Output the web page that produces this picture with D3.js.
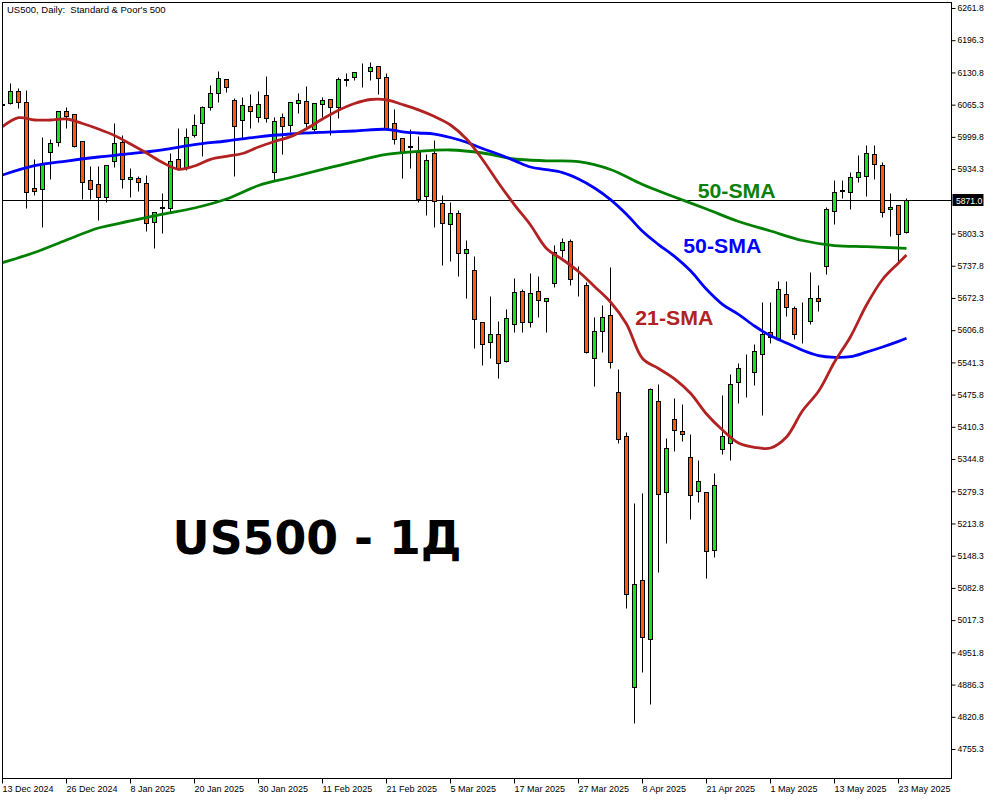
<!DOCTYPE html>
<html><head><meta charset="utf-8">
<script src="https://cdn.jsdelivr.net/npm/d3@7"></script>
<style>body{margin:0;background:#fff;} svg{display:block;} text{white-space:pre;}</style>
</head><body>
<svg id="c" width="1000" height="800"></svg>
<script>
// ---- data ----
const openP = [6065.5,6068.0,6093.1,6070.1,5895.2,5893.2,5969.7,5990.0,6052.4,6045.7,
5990.8,5911.5,5904.0,5878.2,5951.4,5990.0,5913.5,5915.6,5905.4,5827.3,
5855.3,5854.6,5954.2,5935.9,6003.6,6027.4,6061.1,6088.4,6116.8,6074.8,
6034.1,6062.6,6040.8,6084.9,5929.0,6040.8,6023.3,6068.0,6072.7,6015.2,
6066.0,6076.8,6061.1,6116.5,6122.1,6130.2,6134.3,6143.9,6120.9,6027.4,
5996.9,5980.3,5969.7,5880.2,5967.6,5864.7,5822.0,5844.4,5763.1,5729.1,
5622.8,5582.1,5599.0,5544.1,5619.4,5685.8,5622.8,5685.8,5666.7,5702.1,
5769.8,5788.1,5699.6,5698.6,5549.6,5604.5,5637.0,5480.5,5391.0,4880.7,
5098.3,4978.3,5462.2,5277.2,5425.6,5401.2,5348.3,5279.2,5277.2,5159.3,
5364.6,5376.8,5500.8,5522.3,5521.2,5557.7,5602.5,5591.5,5680.3,5651.3,
5629.4,5626.1,5671.6,5737.9,5849.1,5890.9,5887.1,5917.6,5920.9,5965.0,
5942.6,5852.5,5860.7,5807.0];
const highP = [6068.0,6109.9,6098.5,6095.1,5954.8,6000.2,5994.9,6052.4,6059.9,6045.7,
5990.8,5941.2,5941.2,5942.6,6027.4,6003.6,5935.9,5920.2,5922.3,5846.4,
5885.1,5967.6,6017.2,6018.4,6046.3,6062.6,6105.3,6133.7,6116.8,6078.2,
6081.5,6087.0,6093.7,6123.6,6039.6,6048.9,6070.1,6089.6,6103.2,6068.0,
6080.3,6076.8,6120.9,6129.0,6131.1,6150.6,6152.6,6143.9,6130.3,6056.5,
5996.9,6015.2,6001.6,5965.0,5993.4,5881.6,5868.0,5851.1,5790.1,5757.6,
5622.8,5676.3,5625.4,5649.8,5712.3,5689.9,5722.4,5716.9,5672.2,5780.0,
5793.6,5791.6,5737.3,5705.3,5634.2,5658.0,5734.6,5527.9,5399.2,5254.8,
5275.1,5488.6,5496.8,5387.0,5468.3,5456.1,5395.7,5342.8,5277.2,5315.8,
5475.0,5517.1,5539.4,5557.7,5578.1,5663.5,5664.1,5707.4,5707.4,5656.6,
5663.5,5724.5,5698.6,5857.8,5912.1,5912.1,5929.0,5962.9,5983.3,5983.3,
5948.1,5886.3,5860.7,5874.9];
const lowP = [6064.0,6066.6,6059.1,5854.6,5881.6,5817.2,5914.2,5981.9,6017.2,5979.2,
5873.5,5873.5,5830.8,5868.0,5939.2,5895.2,5878.2,5890.4,5808.4,5774.5,
5805.0,5847.7,5932.4,5932.4,6000.2,5961.5,6054.4,6071.3,6091.6,5920.9,
5996.9,6017.2,6030.6,6030.6,5912.1,5964.4,6010.3,6048.9,6020.5,6012.3,
6039.6,6003.6,6037.6,6103.8,6115.4,6101.8,6115.4,6087.0,6013.0,5984.7,
5915.6,5935.9,5866.8,5841.0,5817.2,5739.3,5748.0,5717.5,5671.6,5569.9,
5536.0,5550.8,5510.2,5541.5,5602.5,5602.5,5612.6,5634.2,5603.7,5695.2,
5756.2,5698.6,5676.9,5560.0,5493.9,5561.8,5529.3,5378.0,5041.3,4807.5,
4912.4,4846.8,5115.8,5174.7,5361.8,5382.1,5222.3,5258.1,5102.3,5146.2,
5354.4,5342.8,5458.1,5471.5,5495.3,5434.9,5581.3,5590.3,5636.2,5588.2,
5580.1,5619.4,5645.8,5720.4,5822.0,5874.9,5852.5,5908.7,5880.2,5914.2,
5837.5,5798.9,5748.0,5805.0];
const closeP = [6066.5,6093.1,6071.3,5888.3,5890.4,5946.1,5986.7,6052.4,6042.8,5981.9,
5908.7,5893.2,5878.2,5942.6,5986.7,5913.5,5918.2,5907.4,5824.1,5846.4,
5856.3,5951.4,5935.9,6000.2,6023.9,6059.9,6088.4,6118.9,6101.8,6022.5,
6064.6,6053.0,6066.6,6037.6,6032.1,6021.9,6070.1,6074.8,6028.6,6068.0,
6074.8,6061.1,6117.5,6115.4,6131.1,6129.7,6141.2,6118.9,6015.2,5994.9,
5969.7,5979.8,5873.5,5952.8,5870.0,5824.1,5844.4,5763.1,5771.8,5628.9,
5578.1,5599.0,5539.4,5630.9,5683.8,5622.8,5681.8,5668.1,5671.6,5766.3,
5785.5,5710.2,5698.6,5561.8,5605.1,5633.0,5541.5,5384.9,5069.8,5090.1,
4982.4,5486.6,5273.1,5366.6,5403.2,5395.1,5271.1,5300.2,5157.2,5291.4,
5391.0,5496.8,5529.3,5521.8,5563.8,5598.4,5592.9,5689.9,5653.3,5598.4,
5628.9,5671.6,5666.7,5852.5,5887.1,5890.4,5918.8,5927.8,5967.6,5944.0,
5847.7,5856.6,5801.7,5871.0];

// moving averages (bar index, value)
const smaRedIdx = [0,2,4,6,8,10,12,14,16,18,20,22,24,26,28,30,32,34,36,38,40,42,44,46,48,50,52,54,56,58,
60,62,64,66,68,70,72,74,76,78,80,82,84,86,88,90,92,94,96,98,100,102,104,106,108,110,112,113];
const smaRed = [6020.5,6038.8,6034.1,6034.1,6036.1,6027.0,6015.8,6002.6,5985.3,5967.0,5947.7,5933.9,5940.6,5954.2,
5960.3,5966.0,5979.2,5990.4,6000.2,6016.4,6036.1,6053.8,6067.6,6075.8,6075.2,6065.6,6054.8,6041.2,6023.9,5995.5,
5953.8,5906.0,5861.7,5820.6,5772.8,5750.5,5726.1,5695.6,5664.1,5619.4,5549.2,5528.9,5507.9,5478.5,5436.4,5403.8,
5377.4,5368.7,5367.2,5389.6,5442.9,5482.5,5542.1,5593.5,5658.0,5709.8,5743.4,5759.6];
const smaBlueIdx = [0,4,8,12,16,20,24,28,32,36,40,44,48,50,52,54,56,58,60,62,64,66,68,70,72,74,76,78,80,82,84,86,88,90,
92,94,96,98,100,102,104,106,108,110,112,113];
const smaBlue = [5922.3,5941.2,5950.7,5958.9,5965.6,5973.5,5984.1,5991.4,5999.9,6005.6,6009.1,6011.7,6015.2,6010.1,
6007.7,6005.6,5998.5,5988.8,5976.2,5964.4,5951.6,5938.5,5933.1,5927.2,5914.2,5895.9,5872.3,5842.4,5807.8,5780.8,
5756.8,5727.5,5690.1,5659.4,5639.1,5615.3,5595.6,5580.9,5565.9,5555.1,5551.6,5552.9,5562.2,5572.6,5584.0,5590.3];
const smaGreenIdx = [0,4,8,12,16,20,24,28,32,36,40,44,48,52,56,60,64,68,72,76,80,84,88,92,96,100,104,108,112,113];
const smaGreen = [5744.0,5764.7,5790.1,5814.5,5828.8,5842.6,5855.2,5873.5,5900.9,5917.2,5933.5,5949.7,5964.0,5970.5,
5973.1,5967.0,5954.8,5951.2,5949.5,5933.5,5903.0,5877.6,5853.2,5827.7,5808.4,5789.1,5778.9,5776.5,5773.9,5773.3];

const yTickLabels = ["6261.8","6196.3","6130.8","6065.3","5999.8","5934.3","5803.3","5737.8","5672.3","5606.8",
"5541.3","5475.8","5410.3","5344.8","5279.3","5213.8","5148.3","5082.8","5017.3","4951.8","4886.3","4820.8","4755.3"];
const xTickIdx = [0,8,16,24,32,40,48,56,64,72,80,88,96,104,112];
const xTickLabels = ["13 Dec 2024","26 Dec 2024","8 Jan 2025","20 Jan 2025","30 Jan 2025","11 Feb 2025","21 Feb 2025",
"5 Mar 2025","17 Mar 2025","27 Mar 2025","8 Apr 2025","21 Apr 2025","1 May 2025","13 May 2025","23 May 2025"];
const lastPrice = 5871.0;
const titleText = "US500, Daily:  Standard & Poor's 500";
const bigText = "US500 - 1Д";
const smaLabels = [
  {text:"50-SMA", color:"#0b800b", at:[86.9, 5875]},
  {text:"50-SMA", color:"#0000ff", at:[85.1, 5763]},
  {text:"21-SMA", color:"#b22222", at:[79.1, 5617]}
];

// ---- layout ----
const L = 2.5, R = 951.5, T = 2.5, B = 778.5;
const svg = d3.select("#c");
const x = d3.scaleLinear().domain([0, 113]).range([2.5, 906.5]);
const y = d3.scaleLinear().domain([4755.3, 6261.8]).range([749, 8]);
const py = v => Math.round(y(v)) + 0.5;

svg.append("defs").append("clipPath").attr("id","plot")
  .append("rect").attr("x", L).attr("y", T).attr("width", R - L).attr("height", B - T);

const font = "'Liberation Sans', Arial, sans-serif";

// current price line
svg.append("line").attr("x1", L).attr("x2", R)
  .attr("y1", py(lastPrice)).attr("y2", py(lastPrice))
  .attr("stroke", "#000").attr("stroke-width", 1);

// candles
const idx = d3.range(openP.length);
const g = svg.append("g").attr("clip-path", "url(#plot)");
const cg = g.selectAll("g.c").data(idx).join("g");
cg.append("line")
  .attr("x1", i => x(i)).attr("x2", i => x(i))
  .attr("y1", i => py(highP[i])).attr("y2", i => py(lowP[i]))
  .attr("stroke", "#000").attr("stroke-width", 1);
cg.append("rect")
  .attr("x", i => x(i) - 2).attr("width", 4)
  .attr("y", i => Math.min(py(openP[i]), py(closeP[i])))
  .attr("height", i => Math.abs(py(openP[i]) - py(closeP[i])))
  .attr("fill", i => closeP[i] >= openP[i] ? "#17e317" : "#ff5a0a")
  .attr("stroke", "#000").attr("stroke-width", 1);

// moving averages
function drawLine(ix, vals, color) {
  const line = d3.line().x((d, k) => x(ix[k])).y(d => y(d)).curve(d3.curveCatmullRom);
  g.append("path").attr("d", line(vals)).attr("fill", "none")
    .attr("stroke", color).attr("stroke-width", 2.8).attr("stroke-linejoin", "round");
}
drawLine(smaGreenIdx, smaGreen, "#008000");
drawLine(smaBlueIdx, smaBlue, "#0000ff");
drawLine(smaRedIdx, smaRed, "#b22222");

// frame
svg.append("rect").attr("x", L).attr("y", T).attr("width", R - L).attr("height", B - T)
  .attr("fill", "none").attr("stroke", "#000").attr("stroke-width", 1);

// y axis (right)
const yAxis = d3.axisRight(y).tickValues(yTickLabels.map(Number))
  .tickFormat((d, i) => yTickLabels[i]).tickSize(4).tickPadding(2);
const ya = svg.append("g").attr("transform", `translate(${R},0)`).call(yAxis);
ya.select(".domain").remove();
ya.selectAll("text").attr("font-family", font).attr("font-size", 8.6).attr("fill", "#000");
ya.selectAll("line").attr("stroke", "#000");

// price label
svg.append("rect").attr("x", R + 1).attr("y", py(lastPrice) - 6.5).attr("width", 31).attr("height", 12).attr("fill", "#000");
svg.append("text").attr("x", R + 4.5).attr("y", py(lastPrice) + 3.5)
  .attr("font-family", font).attr("font-size", 8.6).attr("fill", "#fff").text(lastPrice.toFixed(1));

// x axis (bottom)
const xAxis = d3.axisBottom(x).tickValues(xTickIdx).tickFormat((d, i) => xTickLabels[i]).tickSize(5);
const xa = svg.append("g").attr("transform", `translate(0,${B})`).call(xAxis);
xa.select(".domain").remove();
xa.selectAll("line").attr("stroke", "#000").attr("transform", "translate(-0.5,0)");
xa.selectAll("text").attr("font-family", font).attr("font-size", 9).attr("fill", "#000")
  .attr("text-anchor", "start").attr("x", -0.5).attr("y", 13).attr("dy", 0);

// title
svg.append("text").attr("x", 7).attr("y", 13).attr("font-family", font).attr("font-size", 9.5)
  .attr("fill", "#000").text(titleText);

// SMA labels
smaLabels.forEach(s => {
  svg.append("text").attr("x", x(s.at[0])).attr("y", y(s.at[1]))
    .attr("font-family", font).attr("font-weight", "bold").attr("font-size", 20)
    .attr("textLength", 78).attr("lengthAdjust", "spacingAndGlyphs")
    .attr("fill", s.color).text(s.text);
});

// big label
svg.append("text").attr("x", 172.5).attr("y", 553.5)
  .attr("font-family", "'DejaVu Sans', sans-serif").attr("font-weight", "bold").attr("font-size", 46)
  .attr("textLength", 289).attr("lengthAdjust", "spacingAndGlyphs")
  .attr("fill", "#000").text(bigText);
</script>
</body></html>
